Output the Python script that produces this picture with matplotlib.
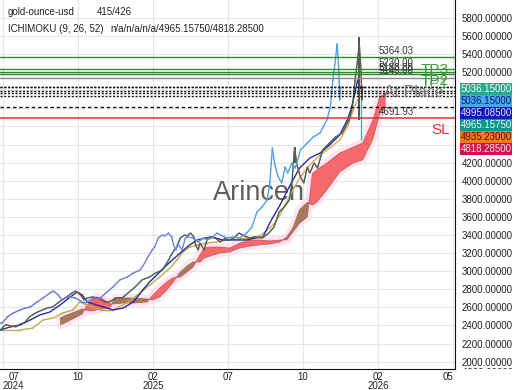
import numpy as np
import matplotlib
matplotlib.use("Agg")
import matplotlib.pyplot as plt
from matplotlib.collections import LineCollection
from matplotlib.colors import LinearSegmentedColormap
from matplotlib.patches import Rectangle
from matplotlib.transforms import Bbox

plt.rcParams['font.family'] = ['Liberation Sans', 'DejaVu Sans']

# ---------------- data (bar index, price) ----------------
close_x = [-3, 3, 9, 15, 21, 25, 31, 38, 46, 52, 58, 66, 73, 81, 85, 91, 95, 99, 105, 111,
           119, 125, 132, 140, 148, 155, 163, 172, 179, 187, 193, 196, 201, 204, 208, 213,
           216, 220, 224, 226, 229, 231, 236, 240, 243, 249, 255, 261, 265, 271, 277, 281,
           289, 296, 304, 312, 318, 324, 330, 336, 339, 342, 345, 349, 353, 357, 360, 365,
           369, 375, 383, 390, 398, 406, 410, 413, 416, 418, 420, 421, 422, 423]
close_y = [2350, 2410, 2395, 2385, 2420, 2428, 2494, 2538, 2571, 2593, 2604, 2660, 2704,
           2759, 2781, 2737, 2682, 2704, 2715, 2704, 2660, 2660, 2704, 2704, 2770, 2825,
           2903, 2936, 2980, 3013, 3102, 3157, 3234, 3267, 3367, 3400, 3389, 3422, 3378,
           3290, 3234, 3312, 3234, 3367, 3378, 3367, 3323, 3367, 3345, 3367, 3422, 3400,
           3367, 3378, 3367, 3422, 3489, 3654, 3710, 3787, 3975, 4361, 4173, 4041, 3975,
           4151, 4085, 4196, 4140, 4339, 4417, 4483, 4527, 4671, 4814, 5113, 5334, 5511,
           5223, 4892, 5035, 5036.15]
CHIKOU_SHIFT = 26

wick_x = [342, 418]
wick_hi = [4372, 5590]
wick_lo = [4196, 4671]
spike_x = [420]
spike_hi = [4900]
spike_lo = [4450]

tenkan_x = [-3, 8, 20, 32, 43, 55, 67, 79, 87, 93, 99, 110, 122, 129, 141, 153, 164, 172,
            184, 196, 208, 219, 228, 237, 246, 257, 266, 278, 286, 296, 305, 313, 325, 337,
            348, 360, 372, 383, 395, 404, 409, 413, 416, 419, 421]
tenkan_y = [2350, 2383, 2405, 2461, 2516, 2549, 2626, 2715, 2770, 2737, 2660, 2626, 2593,
            2571, 2593, 2660, 2792, 2881, 2991, 3102, 3201, 3290, 3345, 3367, 3378, 3345,
            3345, 3345, 3345, 3367, 3378, 3533, 3732, 3953, 4140, 4251, 4306, 4394, 4505,
            4671, 4814, 4969, 5113, 5035, 4995.085]

kijun_x = [-3, 2, 20, 35, 47, 59, 70, 82, 90, 99, 114, 129, 145, 161, 172, 184, 196, 204,
           211, 219, 228, 239, 251, 263, 278, 290, 301, 310, 317, 325, 337, 348, 360, 372,
           383, 395, 404, 411, 416, 421]
kijun_y = [2350, 2350, 2350, 2372, 2461, 2483, 2538, 2571, 2660, 2626, 2571, 2571, 2649,
           2759, 2847, 2936, 3035, 3124, 3212, 3267, 3290, 3312, 3323, 3345, 3356, 3367,
           3389, 3455, 3511, 3621, 3842, 4030, 4174, 4284, 4361, 4450, 4593, 4781, 4892,
           4935.23]

span_x = [67, 75, 84, 93, 97, 102, 110, 117, 126, 131, 143, 155, 169, 176, 184, 192, 199,
          208, 216, 223, 231, 236, 243, 255, 266, 278, 290, 301, 313, 325, 333, 340, 348,
          357, 363, 368, 380, 395, 411, 422, 434, 442, 449]
span_a = [2405, 2439, 2483, 2527, 2604, 2660, 2715, 2693, 2638, 2638, 2649, 2649, 2660,
          2737, 2814, 2881, 2925, 2936, 2991, 3046, 3179, 3256, 3267, 3267, 3256, 3312,
          3345, 3345, 3334, 3345, 3345, 3433, 3530, 3600, 4080, 4118, 4196, 4306, 4372,
          4417, 4671, 4925, 4965.1575]
span_b = [2483, 2516, 2549, 2582, 2571, 2560, 2571, 2582, 2604, 2704, 2704, 2704, 2693,
          2682, 2715, 2792, 2870, 2991, 3058, 3102, 3102, 3146, 3168, 3201, 3212, 3256,
          3278, 3290, 3301, 3323, 3378, 3478, 3680, 3760, 3730, 3760, 3900, 4096, 4196,
          4229, 4460, 4740, 4818.285]

green_levels = [5364.03, 5230.00, 5205.00, 5180.00]
gray_levels = [5140.00]
level_labels = [("5364.03", 5364.03), ("5230.00", 5230.00), ("5180.00", 5180.00),
                ("5140.00", 5140.00)]
sl_level = 4691.93
dotted_levels = [5036.15, 5036.15, 4995.085, 4965.1575, 4935.23]
dashed_levels = [4818.285]

tags = ["5036.15000", "5036.15000", "4995.08500", "4965.15750", "4935.23000", "4818.28500"]
tag_bg = ["#27a98c", "#46a6ef", "#1414c8", "#0c978a", "#f57a10", "#d2104c"]
tag_fg = ["#e9fff6", "#0c1a66", "#dfe4ff", "#e8fffb", "#4a1800", "#ffe8ee"]

xtick_pos = [0, 88, 176, 264, 352, 440, 528]
xtick_lab = ["07\n2024", "10", "02\n2025", "07", "10", "02\n2026", "05"]
ytick_vals = [2000, 2200, 2400, 2600, 2800, 3000, 3200, 3400, 3600, 3800, 4000, 4200,
              5200, 5400, 5600, 5800]

# ---------------- figure ----------------
W, H = 520, 390
fig = plt.figure(figsize=(W / 100, H / 100), dpi=100)
ax = fig.add_axes([0, 21 / H, 455 / W, 369 / H])
ax.set_xlim(-3.52, 530.3)
ax.set_ylim(1919, 5997)

for y in range(2000, 6000, 200):
    ax.axhline(y, color="#e6e6e6", lw=0.8, zorder=0)
for x in xtick_pos:
    ax.axvline(x, color="#e6e6e6", lw=0.8, zorder=0)

ax.text(300, 3860, "Arincen", fontsize=19.5, color="#5e5e5e",
        ha="center", va="center", zorder=1)

sx = np.array(span_x, float)
sa = np.array(span_a, float)
sb = np.array(span_b, float)
ax.plot(sx, sa, color="#ffd9ee", lw=6, alpha=0.7, zorder=2, solid_capstyle="round")
ax.plot(sx, sb, color="#ffd9ee", lw=6, alpha=0.7, zorder=2, solid_capstyle="round")
ax.fill_between(sx, sa, sb, where=sa >= sb, interpolate=True, color="#f46a6a", lw=0, zorder=3)
ax.fill_between(sx, sa, sb, where=sa < sb, interpolate=True, color="#a67a5a", lw=0, zorder=3)
ax.plot(sx, sa, color="#b24848", lw=0.5, alpha=0.8, zorder=3.5)
ax.plot(sx, sb, color="#8a5a40", lw=0.5, alpha=0.8, zorder=3.5)


def grad_line(xs, ys, cmap, lw, z):
    xs = np.asarray(xs, float)
    ys = np.asarray(ys, float)
    pts = np.column_stack([xs, ys]).reshape(-1, 1, 2)
    segs = np.concatenate([pts[:-1], pts[1:]], axis=1)
    t = (xs[:-1] - (-3.52)) / (530.3 + 3.52)
    lc = LineCollection(segs, colors=cmap(t), linewidths=lw, zorder=z, capstyle="round")
    ax.add_collection(lc)


kij_cmap = LinearSegmentedColormap.from_list(
    "kij", [(0, "#b4b04c"), (0.55, "#c2ae48"), (0.62, "#eea552"), (1, "#f2a04e")])
grad_line(kijun_x, kijun_y, kij_cmap, 1.0, 4)

ax.plot(tenkan_x, tenkan_y, color="#2a2aa4", lw=1.0, zorder=5)

cx = np.array(close_x, float)
cy = np.array(close_y, float)
ax.vlines(wick_x, wick_lo, wick_hi, color="#5a5050", lw=1.4, zorder=5.5)
ax.vlines(spike_x, spike_lo, spike_hi, color="#3fb8a0", lw=1.0, zorder=5.5)
ax.plot(cx, cy, color="#4e4e4e", lw=1.0, zorder=6)
pts = np.column_stack([cx, cy]).reshape(-1, 1, 2)
segs = np.concatenate([pts[:-1], pts[1:]], axis=1)
cols = ["#22a06a" if b > a else "#e04848" for a, b in zip(cy[:-1], cy[1:])]
ax.add_collection(LineCollection(segs, colors=cols, linewidths=0.9, alpha=0.35, zorder=6.2))

chi_cmap = LinearSegmentedColormap.from_list(
    "chi", [(0, "#6d6ed8"), (0.35, "#6a80e0"), (0.55, "#4f9ee6"), (1, "#45a8ea")])
grad_line(cx - CHIKOU_SHIFT, cy, chi_cmap, 1.0, 7)

# levels
for lv in green_levels:
    ax.axhline(lv, color="#2f8a2f", lw=1.0, zorder=8)
for lv in gray_levels:
    ax.axhline(lv, color="#8a8a8a", lw=1.0, zorder=8)
for lv in dotted_levels:
    ax.axhline(lv, color="#111111", lw=1.0, ls=(0, (1.5, 1.2)), zorder=8)
for lv in dashed_levels:
    ax.axhline(lv, color="#111111", lw=1.0, ls=(0, (2.5, 2.0)), zorder=8)
ax.axhline(sl_level, color="#d23a3a", lw=1.1, zorder=8)

lab_x = 441
for s, v in level_labels:
    ax.text(lab_x, v + 15, s, fontsize=7, color="#333333", va="bottom", ha="left", zorder=9)
ax.text(lab_x, sl_level + 15, "4691.93", fontsize=7, color="#333333", va="bottom",
        ha="left", zorder=9)

ax.text(490, 5220, "TP3", fontsize=11, color="#3a9a3a", va="center", ha="left", zorder=9)
ax.text(490, 5100, "TP2", fontsize=11, color="#3a9a3a", va="center", ha="left", zorder=9)
ax.text(490, 5070, "TP1", fontsize=11, color="#3a9a3a", va="center", ha="left", zorder=9, alpha=0.7)
ax.text(447, 4975, "At Place", fontsize=11.5, color="#7c7c7c", va="center", ha="left", zorder=9)
ax.text(502, 4560, "SL", fontsize=11, color="#e0303a", va="center", ha="left", zorder=9)

# axes styling
for s in ["top", "left"]:
    ax.spines[s].set_visible(False)
ax.spines["right"].set_color("#111111")
ax.spines["bottom"].set_color("#111111")
ax.yaxis.tick_right()
ax.set_yticks(ytick_vals)
ax.set_yticklabels([f"{v:.5f}" for v in ytick_vals])
ax.tick_params(axis="y", length=0, pad=5, labelsize=7, labelcolor="#222222")
ax.set_xticks(xtick_pos)
ax.set_xticklabels(xtick_lab)
ax.tick_params(axis="x", length=0, pad=2, labelsize=7, labelcolor="#222222")
xl = ax.get_xticklabels()
for t in xl:
    t.set_multialignment("center")
    t.set_linespacing(0.85)
xl[0].set_horizontalalignment("left")
xl[-1].set_horizontalalignment("right")

# partially hidden 1800 label
t18 = fig.text(462 / W, 1 - 372.5 / H, "1800.00000", fontsize=7, color="#222222",
               va="center", ha="left")
t18.set_clip_box(Bbox([[455, 21], [520, 390]]))
t18.set_clip_on(True)

# price tags
for i, (s, bg, fg) in enumerate(zip(tags, tag_bg, tag_fg)):
    top = 83 + 12 * i
    fig.patches.append(Rectangle((460 / W, 1 - (top + 12) / H), 52 / W, 12 / H,
                                 transform=fig.transFigure, facecolor=bg, edgecolor="none"))
    fig.text(486 / W, 1 - (top + 6) / H, s, fontsize=7, color=fg, ha="center", va="center")

# header
fig.text(8 / W, 1 - 12 / H, "gold-ounce-usd", fontsize=7, color="#222222", va="center")
fig.text(97 / W, 1 - 12 / H, "415/426", fontsize=7, color="#222222", va="center")
fig.text(8 / W, 1 - 29 / H, "ICHIMOKU (9, 26, 52)", fontsize=7, color="#222222", va="center")
fig.text(110 / W, 1 - 29 / H, "n/a/n/a/n/a/4965.15750/4818.28500", fontsize=7,
         color="#222222", va="center")

fig.savefig("out.png", dpi=100)
